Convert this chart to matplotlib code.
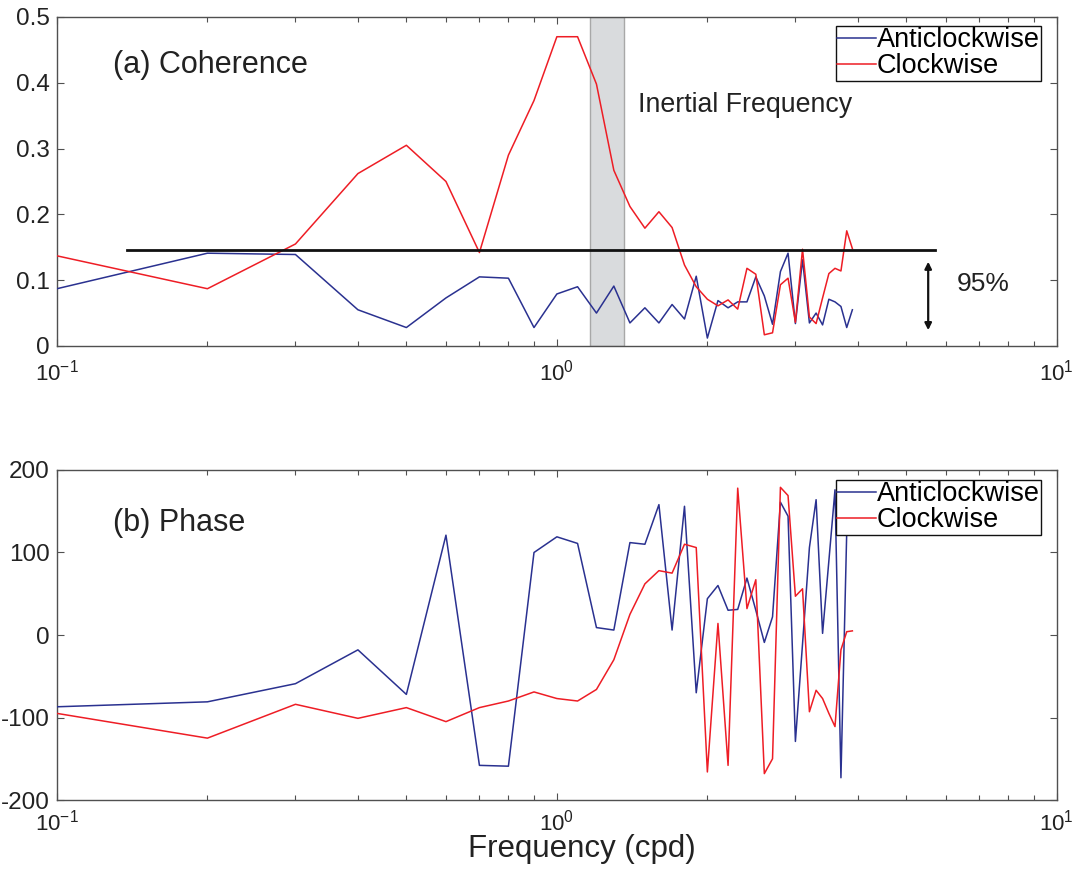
import numpy as np
import matplotlib
matplotlib.use("Agg")
import matplotlib.pyplot as plt
from matplotlib.ticker import NullFormatter

plt.rcParams['font.family'] = ['Liberation Sans', 'DejaVu Sans']
plt.rcParams['mathtext.fontset'] = 'custom'
plt.rcParams['mathtext.rm'] = 'Liberation Sans'
plt.rcParams['axes.unicode_minus'] = False

# frequencies (cpd)
freq = np.round(np.arange(1, 40) * 0.1, 1)

coh_anti = [0.087, 0.141, 0.139, 0.055, 0.028, 0.073, 0.105, 0.103, 0.028, 0.079,
            0.090, 0.050, 0.091, 0.035, 0.058, 0.035, 0.063, 0.041, 0.106, 0.012,
            0.069, 0.058, 0.067, 0.067, 0.105, 0.076, 0.033, 0.113, 0.141, 0.034,
            0.131, 0.035, 0.050, 0.032, 0.071, 0.067, 0.060, 0.028, 0.055]
coh_clock = [0.137, 0.087, 0.155, 0.262, 0.305, 0.250, 0.142, 0.290, 0.373, 0.470,
             0.470, 0.398, 0.267, 0.212, 0.179, 0.204, 0.180, 0.123, 0.090, 0.071,
             0.061, 0.070, 0.056, 0.118, 0.109, 0.017, 0.020, 0.093, 0.103, 0.036,
             0.147, 0.044, 0.034, 0.073, 0.110, 0.118, 0.114, 0.175, 0.148]

pha_anti = [-87, -81, -59, -18, -72, 121, -158, -159, 100, 119,
            111, 9, 6, 112, 110, 158, 6, 156, -70, 44,
            60, 30, 31, 69, 30, -9, 22, 161, 144, -129,
            -11, 106, 164, 2, 90, 176, -173, 125, 140]
pha_clock = [-95, -125, -84, -101, -88, -105, -88, -80, -69, -77,
             -80, -66, -30, 25, 62, 78, 75, 110, 106, -166,
             14, -158, 178, 32, 67, -168, -150, 179, 169, 47,
             56, -93, -67, -77, -95, -111, -18, 4, 5]

conf95 = 0.146
conf_span = (0.138, 5.70)
inertial_band = (1.165, 1.36)

blue = '#2a3190'
red = '#ee1d25'
spine_c = '#505050'
txt_c = '#222222'

fig = plt.figure(figsize=(10.74, 8.71), dpi=100)
ax1 = fig.add_axes([0.053, 0.6028, 0.931, 0.3777])
ax2 = fig.add_axes([0.053, 0.0815, 0.931, 0.3789])


def style(ax, xpad):
    ax.set_xscale('log')
    ax.set_xlim(0.1, 10)
    ax.xaxis.set_minor_formatter(NullFormatter())
    ax.tick_params(which='both', direction='in', top=True, right=True, colors=txt_c)
    ax.tick_params(which='major', length=5, width=0.8, color=spine_c)
    ax.tick_params(which='minor', length=3.6, width=0.8, color=spine_c)
    ax.tick_params(axis='x', pad=xpad, labelsize=16)
    ax.tick_params(axis='y', pad=5, labelsize=17.5)
    for s in ax.spines.values():
        s.set_color(spine_c)
        s.set_linewidth(1.0)


# (a) coherence
ax1.axvspan(inertial_band[0], inertial_band[1], facecolor='#d9dbdd',
            edgecolor='#a8a8a8', linewidth=1, zorder=1)
ax1.plot(freq, coh_anti, color=blue, lw=1.1, label='Anticlockwise', zorder=3)
ax1.plot(freq, coh_clock, color=red, lw=1.1, label='Clockwise', zorder=3)
ax1.plot(conf_span, [conf95, conf95], color='#111111', lw=2, zorder=4)
ax1.annotate('', xy=(5.53, 0.128), xytext=(5.53, 0.024),
             arrowprops=dict(arrowstyle='<|-|>', color='#111111', lw=1.6,
                             mutation_scale=10, shrinkA=0, shrinkB=0))
ax1.text(0.900, 0.188, '95%', transform=ax1.transAxes, fontsize=19,
         va='center', ha='left', color=txt_c)
ax1.text(0.0557, 0.854, '(a) Coherence', transform=ax1.transAxes, fontsize=22,
         va='center', ha='left', color=txt_c)
ax1.text(0.581, 0.7325, 'Inertial Frequency', transform=ax1.transAxes, fontsize=19.3,
         va='center', ha='left', color=txt_c)
ax1.set_ylim(0, 0.5)
ax1.set_yticks([0, 0.1, 0.2, 0.3, 0.4, 0.5])
ax1.set_yticklabels(['0', '0.1', '0.2', '0.3', '0.4', '0.5'])
style(ax1, 10)

# (b) phase
ax2.plot(freq, pha_anti, color=blue, lw=1.1, label='Anticlockwise', zorder=3)
ax2.plot(freq, pha_clock, color=red, lw=1.1, label='Clockwise', zorder=3)
ax2.text(0.0557, 0.839, '(b) Phase', transform=ax2.transAxes, fontsize=22,
         va='center', ha='left', color=txt_c)
ax2.set_ylim(-200, 200)
ax2.set_yticks([-200, -100, 0, 100, 200])
style(ax2, 7)
ax2.set_xlabel('Frequency (cpd)', fontsize=22.5, color=txt_c)
ax2.xaxis.set_label_coords(0.525, -0.148)
ax2.xaxis.label.set_va('center')

for ax, top in ((ax1, 0.973), (ax2, 0.970)):
    leg = ax.legend(loc='upper left', bbox_to_anchor=(0.779, top), fontsize=19.5,
                    frameon=True, fancybox=False, framealpha=1, edgecolor='#111111',
                    borderpad=0.05, labelspacing=0.0, handlelength=1.45,
                    handletextpad=0.0, borderaxespad=0)
    leg.get_frame().set_linewidth(1.0)
    leg.set_zorder(10)

fig.savefig('out.png', dpi=100)
